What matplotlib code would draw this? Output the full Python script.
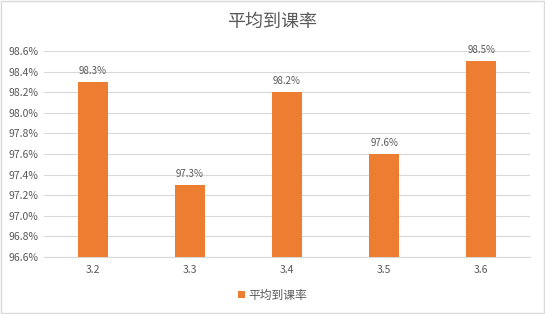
import matplotlib.pyplot as plt
from matplotlib.patches import Rectangle

plt.rcParams['font.family'] = ['Noto Sans CJK SC', 'DejaVu Sans']

# datos
categorias = ['3.2', '3.3', '3.4', '3.5', '3.6']
tasas = [98.3, 97.3, 98.2, 97.6, 98.5]
y_ticks = [96.6, 96.8, 97.0, 97.2, 97.4, 97.6, 97.8, 98.0, 98.2, 98.4, 98.6]

gris = '#595959'
naranja = '#ED7D31'

fig = plt.figure(figsize=(5.45, 3.14), dpi=100)
ax = fig.add_axes([44 / 545, 1 - 257 / 314, (530 - 44) / 545, (257 - 51) / 314])

x = range(len(categorias))
barras = ax.bar(x, tasas, width=0.31, color=naranja, label='平均到课率', zorder=3)

for xi, v in zip(x, tasas):
    ax.text(xi, v + 0.06, f'{v:.1f}%', ha='center', va='bottom', fontsize=7, color=gris)

ax.set_ylim(96.6, 98.6)
ax.set_xlim(-0.5, len(categorias) - 0.5)
ax.set_yticks(y_ticks)
ax.set_yticklabels([f'{t:.1f}%' for t in y_ticks])
ax.set_xticks(list(x))
ax.set_xticklabels(categorias)
ax.tick_params(axis='both', length=0, labelsize=7.5, colors=gris)
ax.tick_params(axis='x', pad=6)
ax.tick_params(axis='y', pad=4)
ax.grid(axis='y', color='#D9D9D9', linewidth=0.8, zorder=0)
for lado in ['top', 'right', 'left']:
    ax.spines[lado].set_visible(False)
ax.spines['bottom'].set_color('#D9D9D9')

fig.text(0.5, 1 - 22 / 314, '平均到课率', ha='center', va='center', fontsize=13, color=gris)

fig.legend(handles=[barras], loc='center', bbox_to_anchor=(0.5, 1 - 295 / 314), frameon=False,
           fontsize=8.5, labelcolor=gris, handlelength=0.6, handleheight=0.6, handletextpad=0.3)

# borde de la figura
fig.patches.append(Rectangle((0.002, 0.003), 0.996, 0.994, transform=fig.transFigure,
                             fill=False, edgecolor='#D9D9D9', linewidth=1))

plt.savefig('out.png', dpi=100)
plt.close()
